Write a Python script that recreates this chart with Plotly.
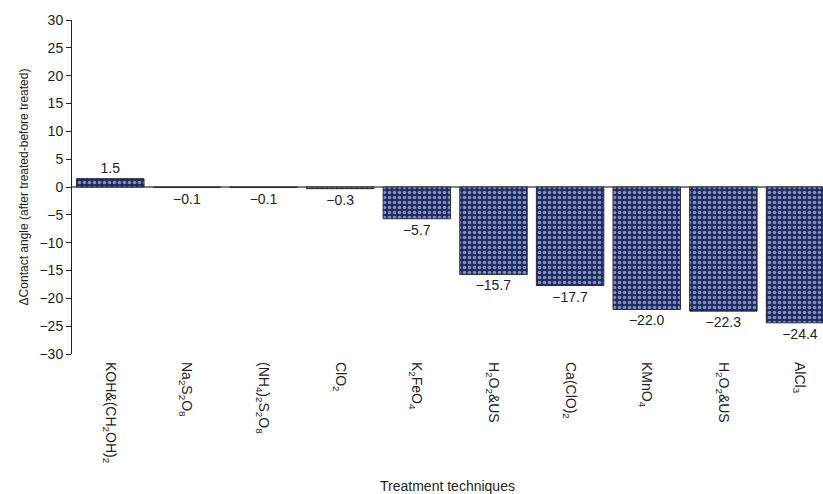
import plotly.graph_objects as go

categories = [
    "KOH&(CH<sub>2</sub>OH)<sub>2</sub>",
    "Na<sub>2</sub>S<sub>2</sub>O<sub>8</sub>",
    "(NH<sub>4</sub>)<sub>2</sub>S<sub>2</sub>O<sub>8</sub>",
    "ClO<sub>2</sub>",
    "K<sub>2</sub>FeO<sub>4</sub>",
    "H<sub>2</sub>O<sub>2</sub>&US",
    "Ca(ClO)<sub>2</sub>",
    "KMnO<sub>4</sub>",
    "H<sub>2</sub>O<sub>2</sub>&US",
    "AlCl<sub>3</sub>",
]
values = [1.5, -0.1, -0.1, -0.3, -5.7, -15.7, -17.7, -22.0, -22.3, -24.4]
y_ticks = list(range(-30, 31, 5))

positions = list(range(len(categories)))
labels = [f"{v:.1f}".replace("-", "\u2212") for v in values]

font = "Liberation Sans, Arial, sans-serif"
txt = "#222"

fig = go.Figure(
    go.Bar(
        x=positions,
        y=values,
        text=labels,
        textposition="outside",
        cliponaxis=False,
        textfont=dict(family=font, size=14, color=txt),
        marker=dict(
            color="#1c2b66",
            line=dict(color="#2a2a3a", width=1),
            pattern=dict(
                shape=".",
                bgcolor="#1c2b66",
                fgcolor="#eef3ff",
                size=5,
                solidity=0.4,
            ),
        ),
        width=0.88,
    )
)

fig.update_layout(
    width=823,
    height=494,
    margin=dict(l=72, r=0, t=20, b=140),
    paper_bgcolor="white",
    plot_bgcolor="white",
    showlegend=False,
    font=dict(family=font, size=14, color=txt),
    xaxis=dict(
        tickmode="array",
        tickvals=positions,
        ticktext=categories,
        tickangle=90,
        range=[-0.5, 9.3],
        showgrid=False,
        zeroline=False,
        showline=False,
        ticks="",
        ticklabelstandoff=7,
        tickfont=dict(family=font, size=14, color=txt),
        title=dict(text="Treatment techniques", font=dict(family=font, size=14, color=txt), standoff=23),
        automargin=False,
    ),
    yaxis=dict(
        range=[-30, 30],
        tickmode="array",
        tickvals=y_ticks,
        showgrid=False,
        zeroline=True,
        zerolinecolor="#808080",
        zerolinewidth=2,
        showline=True,
        linecolor="#222",
        linewidth=1,
        ticks="outside",
        ticklen=5,
        tickcolor="#222",
        tickfont=dict(family=font, size=14, color=txt),
        title=dict(text="\u0394Contact angle (after treated-before treated)", font=dict(family=font, size=12, color=txt), standoff=8),
        automargin=False,
    ),
)

fig.write_html(
    "out.html",
    config={"displayModeBar": False},
    post_script="document.body.style.margin='0';document.body.style.overflow='hidden';",
)
